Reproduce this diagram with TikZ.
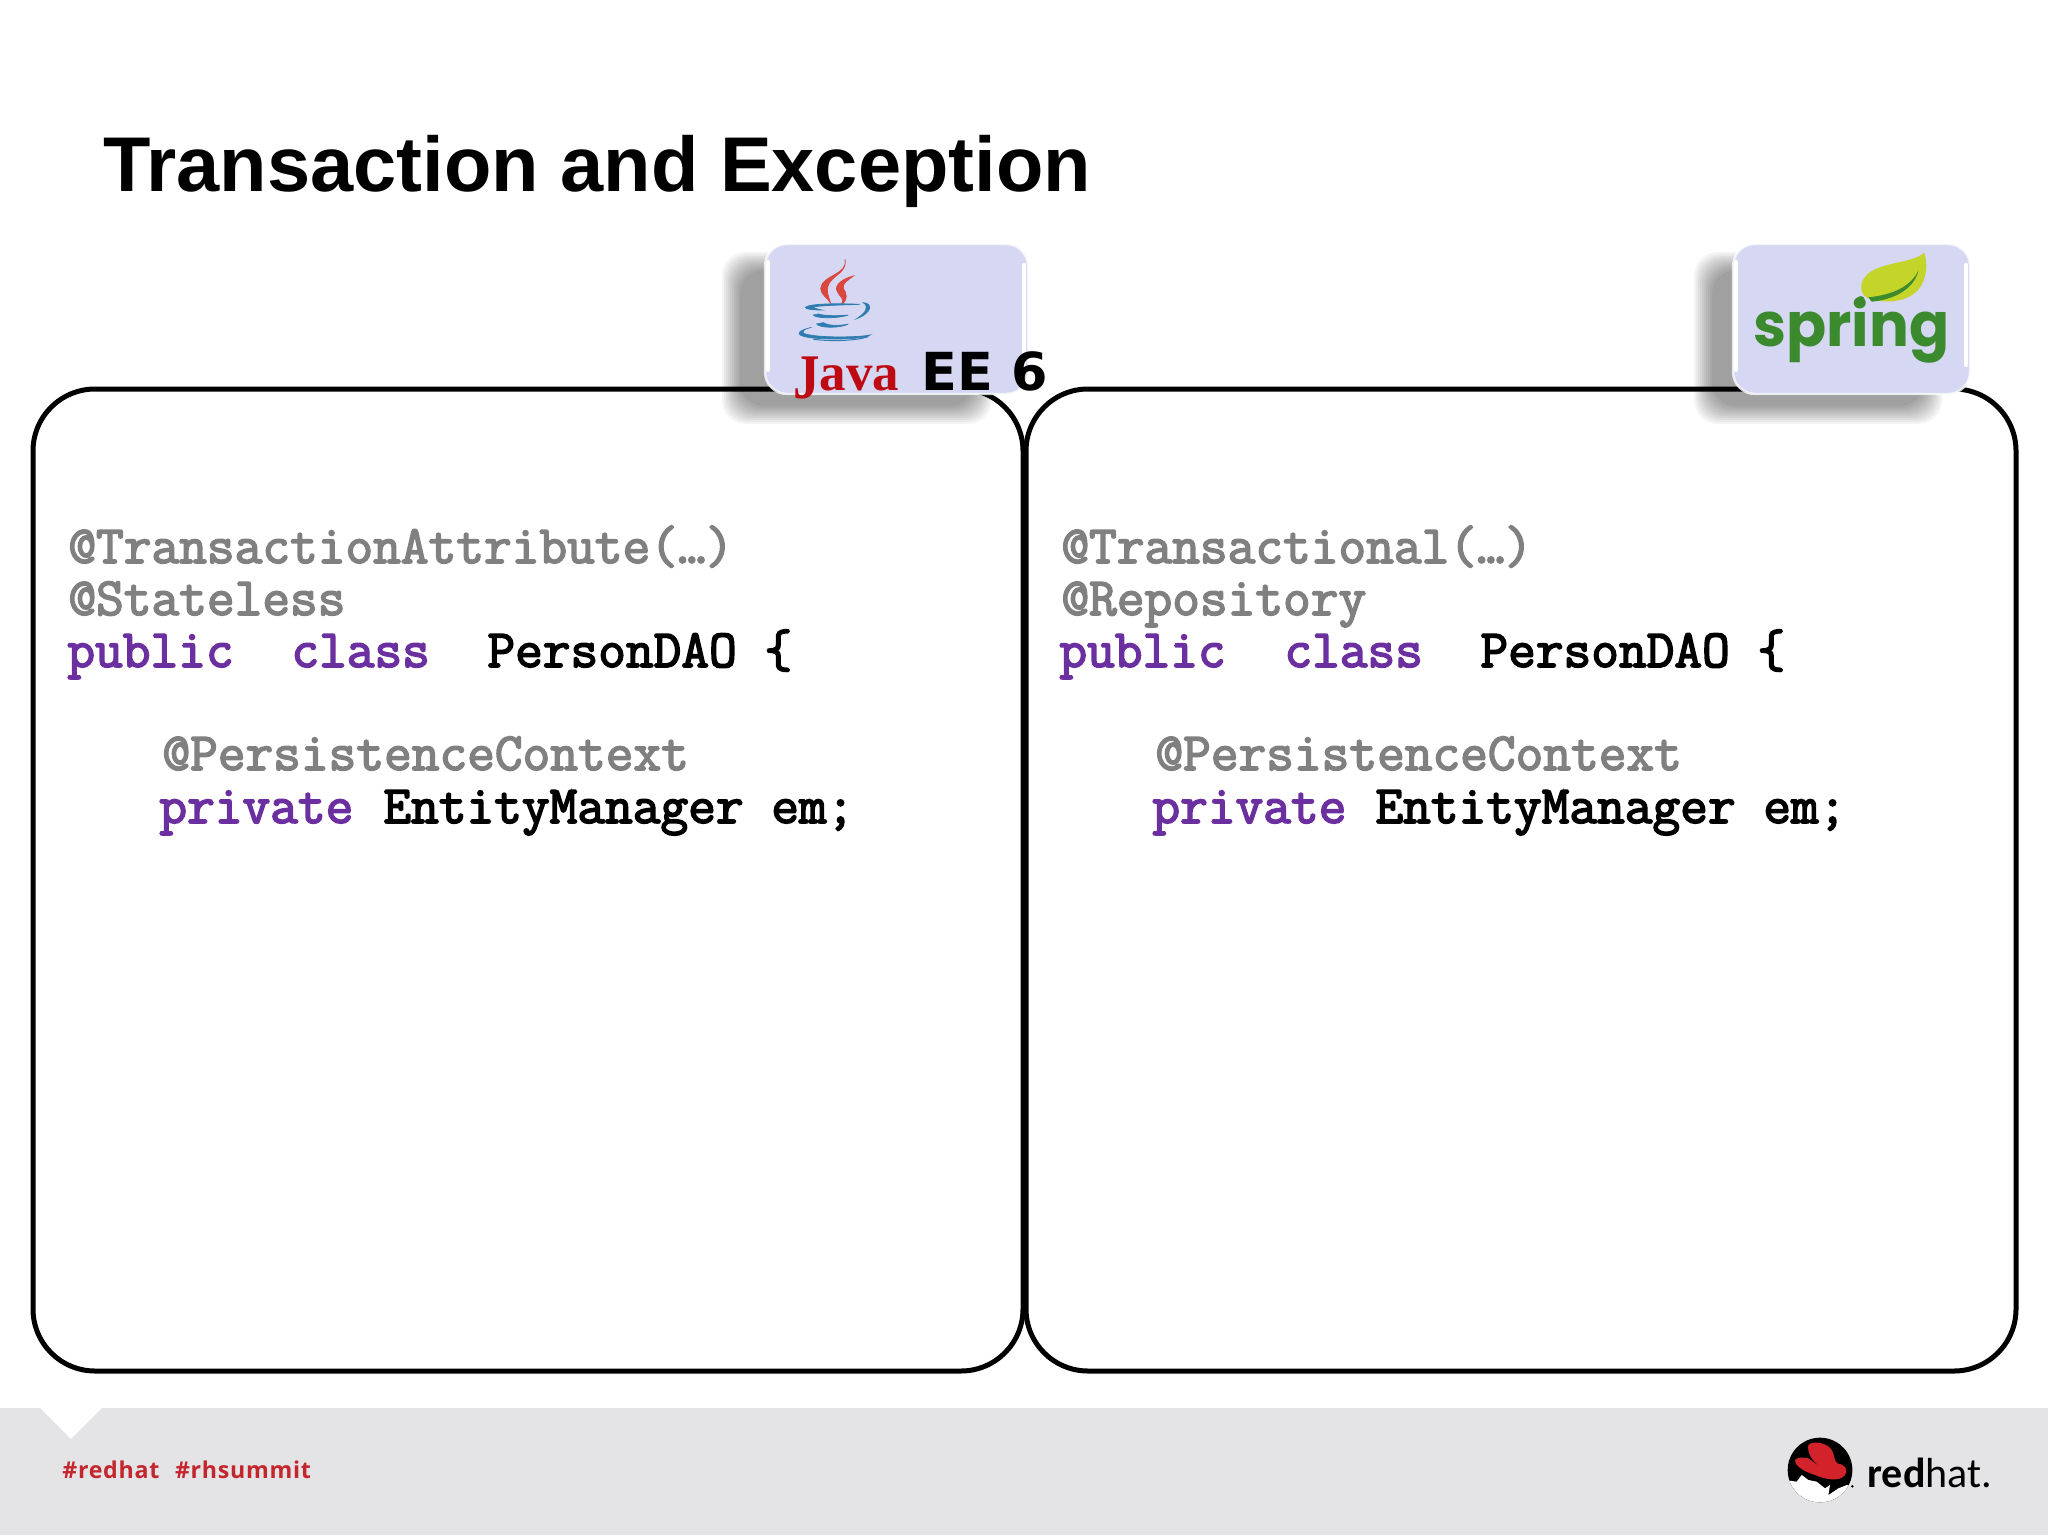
\documentclass[tikz,border=0pt]{standalone}
\usepackage{fontspec}
\setmainfont{Liberation Sans}
\newfontfamily\serifb{Liberation Serif}
\newfontfamily\djv{DejaVu Sans}
\newfontfamily\pop{Poppins}
\newfontfamily\carl{Carlito}
\newfontfamily\opn[LetterSpace=3]{Open Sans}
\newfontfamily\codefont[FakeBold=3]{Latin Modern Mono}
\definecolor{foot}{HTML}{E4E4E6}
\definecolor{badge}{HTML}{D5D7F3}
\definecolor{codegray}{HTML}{808080}
\definecolor{codepurple}{HTML}{6B2FA0}
\definecolor{rhred}{HTML}{C4262E}
\definecolor{hatred}{HTML}{D2232A}
\definecolor{jred}{HTML}{BE0A12}
\definecolor{steam}{HTML}{D9473E}
\definecolor{cup}{HTML}{2E7CB0}
\definecolor{sprgreen}{HTML}{3C8A2E}
\definecolor{leaf}{HTML}{C5D428}
\tikzset{
  codefrag/.style={anchor=base west,inner sep=0pt,font=\fontsize{26.9}{26.9}\selectfont\codefont},
  anno/.style={codefrag,text=codegray},
  kw/.style={codefrag,text=codepurple},
  plain/.style={codefrag,text=black},
  panel/.style={draw=black,line width=2.5pt,fill=white,rounded corners=31pt},
  badgebox/.style={fill=badge,draw=white,draw opacity=.75,line width=1.2pt,rounded corners=11pt},
  glint/.style={draw=white,line width=2.2pt,line cap=round},
  shadowlayer/.style={fill=black,fill opacity=.042,rounded corners=12pt}
}
\begin{document}
\begin{tikzpicture}[x=0.5pt,y=-0.5pt]
\useasboundingbox (0,0) rectangle (2048,1535);
\fill[white] (0,0) rectangle (2048,1535);
% footer
\fill[foot] (0,1408) -- (40,1408) -- (71,1439) -- (102,1408) -- (2048,1408) -- (2048,1535) -- (0,1535) -- cycle;
\node[anchor=base west,inner sep=0pt,text=rhred,font=\fontsize{11.6}{11.6}\selectfont\opn\bfseries] (tags) at (62,1478) {\#redhat\hspace{4.5pt} \#rhsummit};
% panels
\draw[panel] (33,389) rectangle (1023,1371);
\draw[panel] (1026,389) rectangle (2016,1371);
% title
\node[anchor=base west,inner sep=0pt,font=\fontsize{38.8}{38.8}\selectfont\bfseries] (title) at (103,192) {Transaction and Exception};
% shadows
\foreach \i in {0,...,9}{
  \fill[shadowlayer] (722+2*\i,252+2*\i) rectangle (992-2*\i,424-2*\i);
  \fill[shadowlayer] (1694+2*\i,252+2*\i) rectangle (1942-2*\i,424-2*\i);
}
% badges
\draw[badgebox] (765,244) rectangle (1028,394);
\draw[badgebox] (1733,244) rectangle (1970,394);
\draw[glint] (768,262) -- (768,370);
\draw[glint] (1024,265) -- (1024,365);
\draw[glint] (1736,262) -- (1736,370);
\draw[glint] (1966,265) -- (1966,365);
% java logo
\begin{scope}[shift={(700,220)},x=0.16667pt,y=-0.16667pt]
\filldraw[steam,line width=.35pt] (435,118) .. controls (445,165) and (365,165) .. (362,205) .. controls (362,225) and (385,235) .. (392,250) .. controls (385,225) and (372,205) .. (395,180) .. controls (415,160) and (440,150) .. (435,118) -- cycle;
\filldraw[steam,line width=.35pt] (460,168) .. controls (430,175) and (400,195) .. (412,215) .. controls (420,232) and (435,235) .. (425,252) .. controls (445,240) and (440,220) .. (430,205) .. controls (425,190) and (445,180) .. (460,168) -- cycle;
\filldraw[cup,line width=.35pt] (480,253) .. controls (420,250) and (330,250) .. (316,262) .. controls (316,268) and (340,270) .. (365,270) .. controls (345,266) and (335,262) .. (345,260) .. controls (380,255) and (440,255) .. (480,253) -- cycle;
\filldraw[cup,line width=.35pt] (490,248) .. controls (520,250) and (515,280) .. (470,296) .. controls (495,280) and (510,262) .. (490,248) -- cycle;
\filldraw[cup,line width=.35pt] (340,285) .. controls (345,295) and (410,297) .. (445,285) .. controls (420,288) and (370,288) .. (355,282) -- cycle;
\filldraw[cup,line width=.35pt] (350,312) .. controls (360,325) and (420,325) .. (445,312) .. controls (420,318) and (385,318) .. (370,308) -- cycle;
\filldraw[cup,line width=.35pt] (335,322) .. controls (280,335) and (285,350) .. (350,355) .. controls (420,360) and (500,355) .. (510,345) .. controls (480,352) and (350,355) .. (310,340) .. controls (305,330) and (320,325) .. (335,322) -- cycle;
\draw[cup,line width=.5pt] (340,358) .. controls (400,365) and (470,362) .. (505,350);
\end{scope}
\node[anchor=base west,inner sep=0pt,text=jred,font=\fontsize{26.5}{26.5}\selectfont\serifb\bfseries] (java) at (793,390) {\raisebox{-4.5pt}{\scalebox{1}[1.2]{J}}ava};
\node[anchor=base west,inner sep=0pt,text=black,font=\fontsize{26.2}{26.2}\selectfont\djv\bfseries] (ee) at (921,390) {EE 6};
% spring logo
\begin{scope}[shift={(1680,220)},x=0.16667pt,y=-0.16667pt]
\fill[leaf] (732,98) .. controls (700,130) and (600,125) .. (560,165) .. controls (535,190) and (540,225) .. (565,235) .. controls (620,255) and (730,250) .. (738,150) .. controls (740,130) and (738,115) .. (732,98) -- cycle;
\fill[sprgreen] (565,232) .. controls (630,225) and (690,205) .. (716,150) .. controls (700,215) and (630,240) .. (575,245) -- cycle;
\fill[sprgreen] (542,240) circle (12);
\end{scope}
\node[anchor=base west,inner sep=0pt,text=sprgreen,font=\fontsize{30.5}{30.5}\selectfont\pop\bfseries] (spring) at (1753,346) {\scalebox{.97}[1]{spring}};
% redhat logo
\begin{scope}[shift={(1750,1410)},x=0.16667pt,y=-0.16667pt]
\fill[black] (210,180) circle (97);
\begin{scope}
\clip (210,180) circle (97);
\fill[white] (105,210) -- (140,215) -- (155,195) -- (175,210) -- (200,215) -- (225,235) -- (240,225) -- (235,255) -- (265,235) -- (290,225) -- (315,225) -- (315,290) -- (105,290) -- cycle;
\end{scope}
\fill[hatred] (175,105) .. controls (190,90) and (235,100) .. (245,120) .. controls (255,135) and (250,150) .. (262,160) .. controls (285,165) and (295,175) .. (285,195) .. controls (270,215) and (230,210) .. (195,195) .. controls (165,185) and (135,170) .. (135,150) .. controls (140,142) and (160,140) .. (175,145) .. controls (190,155) and (200,165) .. (205,165) .. controls (190,155) and (170,130) .. (175,105) -- cycle;
\fill[black] (307,229) circle (4);
\end{scope}
\node[anchor=base west,inner sep=0pt,text=black,font=\fontsize{21}{21}\selectfont\carl] (rh) at (1867,1487) {\textbf{red}hat.};
% left code
\node[anno] (l1) at (68,563) {@TransactionAttribute(…)};
\node[anno] (l2) at (68,615) {@Stateless};
\node[kw] (l3a) at (67,667) {public};
\node[kw] (l3b) at (291,667) {class};
\node[plain] (l3c) at (487,667) {PersonDAO \{};
\node[anno] (l4) at (162,770) {@PersistenceContext};
\node[kw] (l5a) at (159,823) {private};
\node[plain] (l5b) at (383,823) {EntityManager em;};
% right code
\node[anno] (r1) at (1061,563) {@Transactional(…)};
\node[anno] (r2) at (1061,615) {@Repository};
\node[kw] (r3a) at (1059,667) {public};
\node[kw] (r3b) at (1284,667) {class};
\node[plain] (r3c) at (1480,667) {PersonDAO \{};
\node[anno] (r4) at (1155,770) {@PersistenceContext};
\node[kw] (r5a) at (1152,823) {private};
\node[plain] (r5b) at (1375,823) {EntityManager em;};
\end{tikzpicture}
\end{document}
